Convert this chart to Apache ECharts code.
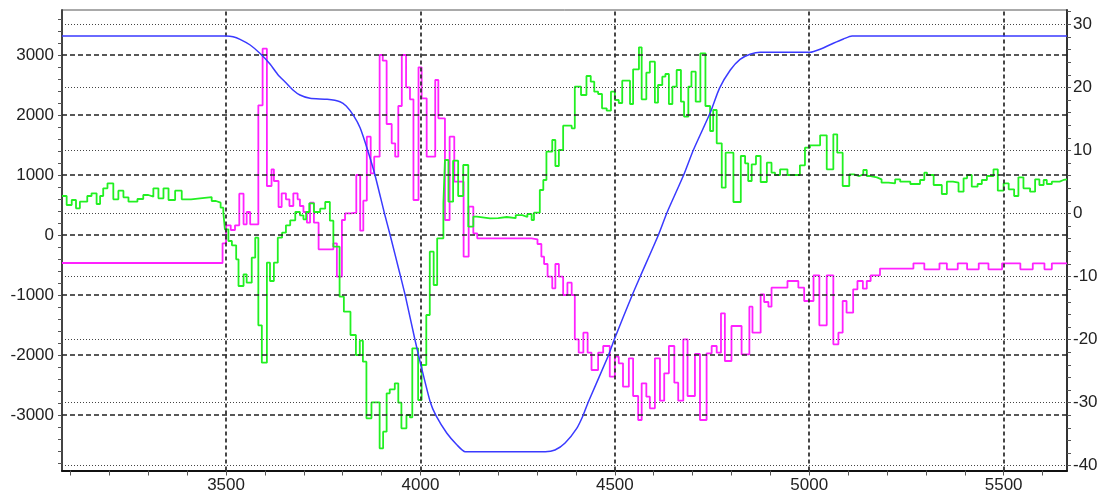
<!DOCTYPE html>
<html><head><meta charset="utf-8">
<script src="https://cdn.jsdelivr.net/npm/echarts@6/dist/echarts.min.js"></script>
<style>html,body{margin:0;padding:0;background:#fff}#c{width:1108px;height:499px}</style>
</head><body><div id="c"></div>
<script>
// ---- axes ----
const xMin = 3078, xMax = 5663;
const leftMin = -3925, leftMax = 3750;
const rightMin = -40.76, rightMax = 32.27;
const xLabels = [3500, 4000, 4500, 5000, 5500];
const leftLabels = [-3000, -2000, -1000, 0, 1000, 2000, 3000];
const rightLabels = [-40, -30, -20, -10, 0, 10, 20, 30];

// ---- green series (left axis) ----
const greenX = [3078,3090,3103,3114,3124,3143,3154,3167,3176,3184,3195,3210,3223,3236,3249,3272,3287,3300,3313,3326,3339,3352,3369,3386,3410,3433,3463,3474,3486,3493,3497,3506,3515,3526,3532,3545,3553,3566,3575,3583,3592,3605,3613,3623,3633,3644,3654,3665,3678,3690,3699,3706,3714,3726,3742,3755,3767,3776,3792,3803,3820,3834,3844,3852,3861,3874,3895,3904,3913,3921,3934,3943,3951,3964,3973,3979,3994,4003,4015,4024,4034,4043,4059,4063,4072,4084,4097,4110,4123,4136,4145,4179,4200,4222,4245,4262,4275,4286,4292,4307,4316,4324,4339,4347,4356,4367,4389,4397,4413,4427,4438,4447,4457,4467,4479,4490,4500,4510,4519,4539,4547,4562,4569,4581,4590,4603,4611,4622,4630,4639,4648,4659,4670,4678,4689,4697,4708,4720,4733,4745,4753,4762,4775,4785,4805,4824,4835,4843,4852,4863,4875,4891,4903,4912,4925,4944,4976,4989,5002,5028,5045,5062,5072,5086,5103,5115,5129,5139,5148,5158,5174,5186,5204,5221,5234,5260,5285,5296,5303,5320,5341,5354,5370,5384,5397,5406,5418,5433,5444,5457,5474,5485,5500,5513,5527,5538,5551,5568,5581,5592,5603,5611,5624,5644,5654];
const greenY = [650,500,583,444,556,650,694,517,650,778,861,594,739,628,556,600,667,639,778,611,778,583,739,594,611,633,567,539,456,372,94,-100,-172,-406,-850,-656,-794,-378,-44,-1506,-2128,-461,-767,-461,-44,39,161,244,383,328,261,383,528,383,439,550,239,-194,-1028,-1278,-1667,-2000,-1761,-2111,-3056,-2790,-3556,-3278,-2639,-2572,-2472,-2794,-3222,-3000,-3040,-1889,-2750,-2167,-1333,-278,-833,-56,528,1250,556,1239,650,1167,139,306,278,280,300,280,330,300,350,250,372,750,917,1389,1583,1150,1417,1822,1778,2472,2333,2650,2556,2389,2350,2111,2072,2389,2250,2200,2572,2183,2761,3128,2261,2706,2889,2206,2500,2639,2683,2183,2472,2750,2222,1972,2472,2722,2222,3028,2150,1733,2083,1528,789,1372,550,1317,1194,900,1178,1317,883,1206,1039,1000,1094,1000,1161,1456,1494,1661,1094,1678,1372,817,1011,983,1011,1083,983,961,928,872,861,928,889,850,917,1039,1000,833,683,889,872,722,944,1000,806,850,917,983,1094,739,861,761,650,961,778,722,928,833,917,850,889,917,928];

// ---- magenta series (left axis) ----
const magentaX = [3078,3491,3500,3512,3523,3534,3545,3553,3562,3583,3594,3605,3617,3623,3635,3643,3654,3663,3673,3684,3690,3699,3708,3716,3726,3738,3776,3785,3798,3806,3821,3835,3845,3853,3862,3872,3881,3895,3903,3913,3926,3935,3943,3952,3963,3973,3982,3995,4003,4016,4038,4046,4063,4075,4087,4111,4124,4136,4146,4286,4301,4311,4318,4327,4339,4347,4356,4367,4378,4389,4397,4407,4419,4430,4440,4457,4470,4487,4500,4510,4521,4536,4547,4560,4569,4581,4590,4603,4616,4627,4639,4653,4663,4676,4687,4706,4719,4736,4749,4762,4773,4783,4800,4826,4846,4854,4875,4884,4895,4903,4944,4972,4987,5011,5026,5045,5062,5075,5086,5096,5113,5124,5138,5148,5158,5182,5268,5296,5335,5354,5382,5406,5436,5461,5496,5543,5575,5605,5624];
const magentaY = [-467,-139,161,83,161,689,178,383,178,2161,3106,817,1094,900,467,694,594,483,694,594,483,383,206,539,206,-239,-139,-694,250,361,372,1000,72,572,1639,1028,1306,3000,2906,1850,1528,1306,2150,3000,2461,2261,583,2794,2278,1306,2583,1944,250,1639,889,-361,472,28,-56,-72,-150,-361,-483,-694,-889,-483,-694,-1000,-794,-1000,-1739,-1961,-1628,-1961,-2250,-1961,-1850,-2361,-2028,-2139,-2528,-2056,-2683,-3083,-2472,-2694,-2889,-2056,-2761,-2306,-1850,-2461,-2761,-1739,-2683,-1983,-3083,-1972,-1850,-1961,-1306,-2100,-1517,-1990,-1194,-1628,-989,-1117,-1194,-878,-767,-878,-1100,-672,-1506,-672,-1822,-1628,-1100,-1294,-906,-767,-894,-767,-672,-560,-472,-572,-472,-572,-472,-572,-472,-572,-472,-572,-472,-572,-472];

// ---- blue series (right axis) ----
const blueX = [3078,3500,3518,3536,3562,3587,3613,3634,3652,3672,3690,3716,3760,3793,3809,3828,3845,3864,3883,3907,3922,3949,3961,3986,3995,4001,4025,4040,4068,4094,4115,4321,4346,4372,4402,4418,4432,4484,4498,4544,4565,4612,4634,4677,4702,4745,4769,4797,4822,4848,4874,5002,5028,5062,5088,5110,5663];
const blueY = [28.14,28.14,28.03,27.62,26.72,25.40,23.70,21.96,20.85,19.59,18.79,18.27,18.11,17.73,17.04,15.51,13.56,10.07,6.11,0.12,-3.41,-10.03,-13.04,-20.06,-22.44,-24.03,-29.85,-32.07,-34.86,-36.71,-37.78,-37.78,-37.51,-36.40,-34.07,-32.07,-29.85,-22.44,-20.06,-13.04,-10.03,-3.41,0.12,6.11,10.07,15.93,19.85,22.75,24.45,25.24,25.56,25.56,26.04,26.99,27.67,28.14,28.14];

function stepData(xs, ys, endX) {
  const d = xs.map((x, i) => [x, ys[i]]);
  d.push([endX, ys[ys.length - 1]]);
  return d;
}
function multiples(a, b, step) {
  const out = [];
  for (let v = Math.ceil(a / step) * step; v <= b + 1e-9; v += step) out.push(Math.round(v * 1000) / 1000);
  return out;
}

const font = { color: '#222', fontSize: 17, fontFamily: 'Liberation Sans, Arial, sans-serif' };

const chart = echarts.init(document.getElementById('c'), null, { renderer: 'canvas' });
chart.setOption({
  animation: false,
  backgroundColor: '#fff',
  grid: { left: 62, right: 41, top: 10, bottom: 28.5, show: true, borderColor: '#555', borderWidth: 1 },
  xAxis: {
    type: 'value', min: xMin, max: xMax,
    axisLine: { show: true, onZero: false, lineStyle: { color: '#111', width: 2.2 } },
    axisTick: { show: true, customValues: multiples(xMin, xMax, 100), length: 5, lineStyle: { color: '#555' } },
    axisLabel: Object.assign({ customValues: xLabels, margin: 6, formatter: v => String(v) }, font),
    splitLine: { show: false }
  },
  yAxis: [
    {
      type: 'value', min: leftMin, max: leftMax, position: 'left',
      axisLine: { show: true, onZero: false, lineStyle: { color: '#444', width: 2 } },
      axisTick: { show: true, customValues: multiples(leftMin, leftMax, 200), length: 4, lineStyle: { color: '#555' } },
      axisLabel: Object.assign({ customValues: leftLabels, margin: 8, formatter: v => String(v) }, font),
      splitLine: { show: false }
    },
    {
      type: 'value', min: rightMin, max: rightMax, position: 'right',
      axisLine: { show: true, onZero: false, lineStyle: { color: '#333', width: 2 } },
      axisTick: { show: true, customValues: multiples(rightMin, rightMax, 2), length: 4, lineStyle: { color: '#555' } },
      axisLabel: Object.assign({ customValues: rightLabels, margin: 6, formatter: v => String(v) }, font),
      splitLine: { show: false }
    }
  ],
  series: [
    {
      type: 'line', yAxisIndex: 0, data: [], silent: true, z: 1,
      markLine: {
        symbol: 'none', silent: true, animation: false, label: { show: false },
        lineStyle: { color: '#222', type: [5, 3], width: 1.5 },
        data: leftLabels.map(v => ({ yAxis: v })).concat(
          xLabels.map(v => ({ xAxis: v, lineStyle: { color: '#333', type: [4, 3], width: 1.8 } })))
      }
    },
    {
      type: 'line', yAxisIndex: 1, data: [], silent: true, z: 1,
      markLine: {
        symbol: 'none', silent: true, animation: false, label: { show: false },
        lineStyle: { color: '#444', type: [1, 2], width: 1.1 },
        data: rightLabels.map(v => ({ yAxis: v }))
      }
    },
    {
      name: 'magenta', type: 'line', yAxisIndex: 0, step: 'end', showSymbol: false, z: 3,
      lineStyle: { color: '#ff22ff', width: 1.8 }, data: stepData(magentaX, magentaY, xMax)
    },
    {
      name: 'green', type: 'line', yAxisIndex: 0, step: 'end', showSymbol: false, z: 4,
      lineStyle: { color: '#22f022', width: 1.8 }, data: stepData(greenX, greenY, xMax)
    },
    {
      name: 'blue', type: 'line', yAxisIndex: 1, smooth: 0.2, showSymbol: false, z: 5,
      lineStyle: { color: '#3a3aff', width: 1.5 }, data: blueX.map((x, i) => [x, blueY[i]])
    }
  ]
});
</script></body></html>
